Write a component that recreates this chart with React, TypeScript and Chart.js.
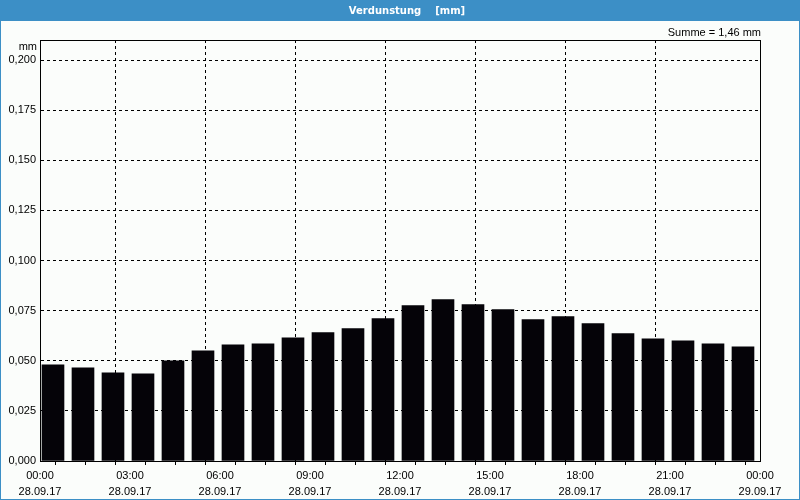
import React, { useEffect, useRef } from "react";
import { Chart, registerables } from "chart.js";

Chart.register(...registerables);

const TITLE = "Verdunstung    [mm]";
const SUM_LABEL = "Summe = 1,46 mm";
const UNIT = "mm";
const HOURS = Array.from({ length: 24 }, (_, i) => i);
const VALUES = [
  0.048, 0.0465, 0.044, 0.0435, 0.05, 0.055, 0.058, 0.0585,
  0.0615, 0.064, 0.066, 0.071, 0.0775, 0.0805, 0.078, 0.0755,
  0.0705, 0.072, 0.0685, 0.0635, 0.061, 0.06, 0.0585, 0.057,
];
const TIME_LABELS = ["00:00", "03:00", "06:00", "09:00", "12:00", "15:00", "18:00", "21:00", "00:00"];
const DATE_LABELS = ["28.09.17", "28.09.17", "28.09.17", "28.09.17", "28.09.17", "28.09.17", "28.09.17", "28.09.17", "29.09.17"];
const BAR_OFFSET = 0.433; // bar drawn in hour slot, left-aligned

const BLUE = "#3c8fc6";
const BG = "#fbfdfb";
const FONT = "'Liberation Sans', Arial, sans-serif";
const TITLE_FONT = "'DejaVu Sans', Verdana, sans-serif";

const decor = {
  id: "decor",
  beforeDraw(chart: any) {
    const { ctx, width, height } = chart;
    ctx.save();
    ctx.fillStyle = BG;
    ctx.fillRect(0, 0, width, height);
    ctx.fillStyle = BLUE;
    ctx.fillRect(0, 0, width, 21);
    ctx.fillRect(0, 0, 1, height);
    ctx.fillRect(width - 1, 0, 1, height);
    ctx.fillRect(0, height - 1, width, 1);
    ctx.restore();
  },
  afterDraw(chart: any) {
    const { ctx, chartArea } = chart;
    const { left, top, right, bottom } = chartArea;
    ctx.save();
    ctx.strokeStyle = "#000";
    ctx.lineWidth = 1;
    ctx.setLineDash([]);
    ctx.strokeRect(Math.round(left) + 0.5, Math.round(top) + 0.5, Math.round(right - left), Math.round(bottom - top));
    ctx.fillStyle = "#fff";
    ctx.font = `bold 10px ${TITLE_FONT}`;
    ctx.textAlign = "center";
    ctx.textBaseline = "middle";
    ctx.fillText(TITLE, 407, 11);
    ctx.fillStyle = "#000";
    ctx.font = `11px ${FONT}`;
    ctx.textAlign = "right";
    ctx.fillText(SUM_LABEL, 761, 33);
    ctx.fillText(UNIT, 37, 47);
    ctx.restore();
  },
};

export default function App() {
  const ref = useRef<HTMLCanvasElement>(null);
  useEffect(() => {
    document.body.style.margin = "0";
    const chart = new Chart(ref.current!, {
      type: "bar",
      data: {
        datasets: [
          {
            data: HOURS.map((h, i) => ({ x: h + BAR_OFFSET, y: VALUES[i] })),
            backgroundColor: "#050308",
            borderWidth: 0,
            barThickness: 22,
          },
        ],
      },
      options: {
        responsive: false,
        animation: false,
        events: [],
        layout: { padding: { top: 40, right: 40, left: 0, bottom: 0 } },
        plugins: { legend: { display: false }, tooltip: { enabled: false }, title: { display: false } },
        scales: {
          x: {
            type: "linear",
            min: 0,
            max: 24,
            offset: false,
            afterFit: (s: any) => { s.height = 39; },
            grid: {
              color: (c: any) => (c.tick && c.tick.value % 3 === 0 && c.tick.value > 0 && c.tick.value < 24 ? "#000" : "transparent"),
              tickColor: "#000",
              tickLength: 4,
              lineWidth: 1,
            },
            border: { display: true, color: "#000", width: 1, dash: [3, 3] },
            ticks: {
              stepSize: 1,
              autoSkip: false,
              maxRotation: 0,
              minRotation: 0,
              padding: 3,
              color: "#000",
              font: { family: FONT, size: 11, lineHeight: 1.45 },
              callback: (v: any) => {
                const n = Math.round(Number(v));
                if (n % 3 !== 0) return "";
                const k = n / 3;
                return [TIME_LABELS[k], DATE_LABELS[k]];
              },
            },
          },
          y: {
            min: 0,
            max: 0.21,
            afterFit: (s: any) => { s.width = 40; },
            grid: {
              drawTicks: false,
              color: (c: any) => (c.tick && c.tick.value > 0.001 && c.tick.value < 0.2001 ? "#000" : "transparent"),
              lineWidth: 1,
            },
            border: { display: true, color: "#000", width: 1, dash: [3, 3] },
            ticks: {
              stepSize: 0.025,
              padding: 4,
              color: "#000",
              font: { family: FONT, size: 11 },
              callback: (v: any) => {
                const n = Number(v);
                const r = Math.round(n / 0.025);
                if (Math.abs(n - r * 0.025) > 1e-6) return "";
                return n.toFixed(3).replace(".", ",");
              },
            },
          },
        },
      },
      plugins: [decor],
    });
    return () => chart.destroy();
  }, []);
  return (
    <div style={{ width: 800, height: 500 }}>
      <canvas ref={ref} width={800} height={500} style={{ display: "block" }} />
    </div>
  );
}
